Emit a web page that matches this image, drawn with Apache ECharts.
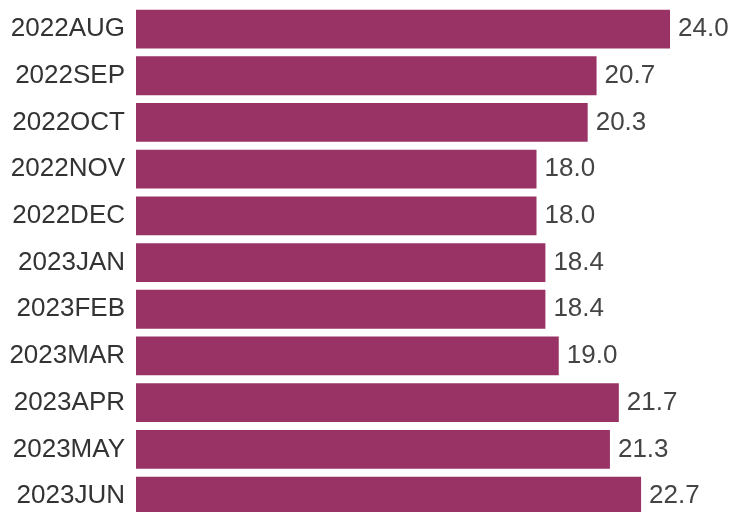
<!DOCTYPE html>
<html><head><meta charset="utf-8">
<script src="https://cdn.jsdelivr.net/npm/echarts@6/dist/echarts.min.js"></script>
<style>html,body{margin:0;padding:0;background:#fff}#c{width:732px;height:512px}</style>
</head><body><div id="c"></div>
<script>
const categories = ["2022AUG","2022SEP","2022OCT","2022NOV","2022DEC","2023JAN","2023FEB","2023MAR","2023APR","2023MAY","2023JUN"];
const values = [24.0,20.7,20.3,18.0,18.0,18.4,18.4,19.0,21.7,21.3,22.7];
const chart = echarts.init(document.getElementById('c'), null, {renderer:'canvas'});
chart.setOption({
  animation:false,
  grid:{left:136,width:578.5,top:5.7,height:513.7,containLabel:false,outerBoundsMode:'none'},
  xAxis:{type:'value',min:0,max:26,show:false},
  yAxis:{type:'category',data:categories,inverse:true,
    axisLine:{show:false},axisTick:{show:false},
    axisLabel:{fontFamily:'Liberation Sans',fontSize:26,color:'#333',margin:11}},
  series:[{type:'bar',data:values,barCategoryGap:'17%',
    itemStyle:{color:'#993366'},
    label:{show:true,position:'right',distance:8,fontFamily:'Liberation Sans',fontSize:26,color:'#444',
      formatter:p=>p.value.toFixed(1)}}]
});
</script></body></html>
